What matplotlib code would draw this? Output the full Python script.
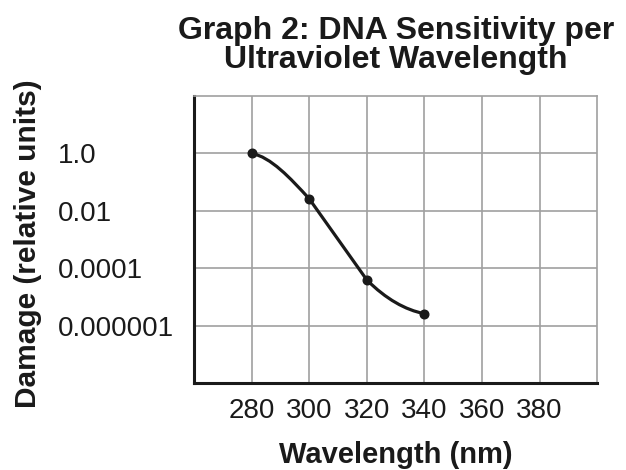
import numpy as np
import matplotlib
matplotlib.use("Agg")
import matplotlib.pyplot as plt
from matplotlib.path import Path
from matplotlib.patches import PathPatch

plt.rcParams['font.family'] = ['Liberation Sans', 'DejaVu Sans']

# data
wavelength = [280, 300, 320, 340]
damage = [1.0, 0.026, 3.9e-5, 2.6e-6]
x_ticks = [280, 300, 320, 340, 360, 380]
y_ticks = [1.0, 0.01, 0.0001, 0.000001]
y_tick_labels = ['1.0', '0.01', '0.0001', '0.000001']

fig = plt.figure(figsize=(6.26, 4.70), dpi=100)
ax = fig.add_axes([0.310, 0.185, 0.644, 0.611])
ax.set_yscale('log')
ax.set_xlim(260, 400)
ax.set_ylim(1e-8, 1e2)

# hand-drawn look: cubic beziers in (x, log10 y) space
xs = np.array(wavelength, dtype=float)
ls = np.log10(damage)
seg = np.diff(ls) / np.diff(xs)
steep = np.argmin(seg)          # steepest stretch drawn straight
t_out = np.zeros(len(xs) - 1)
t_in = np.zeros(len(xs) - 1)
for i in range(len(seg)):
    if i == steep:
        t_out[i] = t_in[i] = seg[i]
        continue
    t_out[i] = -0.02 if i == 0 else 0.5 * (seg[i - 1] + seg[i])
    t_in[i] = -0.02 if i == len(seg) - 1 else 0.5 * (seg[i] + seg[i + 1])
verts = [(xs[0], ls[0])]
codes = [Path.MOVETO]
for i in range(len(seg)):
    h = (xs[i + 1] - xs[i]) / 3
    verts += [(xs[i] + h, ls[i] + t_out[i] * h),
              (xs[i + 1] - h, ls[i + 1] - t_in[i] * h),
              (xs[i + 1], ls[i + 1])]
    codes += [Path.CURVE4] * 3
verts = [(vx, 10 ** vy) for vx, vy in verts]
ax.add_patch(PathPatch(Path(verts, codes), fill=False, lw=2.3,
                       ec='#1a1a1a', zorder=3, capstyle='round',
                       joinstyle='round'))
ax.plot(wavelength, damage, 'o', color='#1a1a1a', ms=6.2, zorder=4)

ax.set_xticks(x_ticks)
ax.set_yticks(y_ticks)
ax.set_yticklabels(y_tick_labels)
ax.minorticks_off()
ax.grid(True, color='#a0a0a0', lw=1.2)
ax.set_axisbelow(True)
ax.tick_params(axis='both', length=0, labelsize=20, colors='#1a1a1a')
ax.tick_params(axis='x', pad=11)
ax.tick_params(axis='y', pad=98)
for lab in ax.get_yticklabels():
    lab.set_horizontalalignment('left')

for s in ['top', 'right']:
    ax.spines[s].set_color('#a0a0a0')
    ax.spines[s].set_linewidth(1.2)
for s in ['left', 'bottom']:
    ax.spines[s].set_color('#1a1a1a')
    ax.spines[s].set_linewidth(2.2)

ax.set_title('Graph 2: DNA Sensitivity per\nUltraviolet Wavelength',
             fontsize=23, fontweight='bold', color='#1a1a1a',
             linespacing=0.98, pad=20)
ax.set_xlabel('Wavelength (nm)', fontsize=21, fontweight='bold',
              color='#1a1a1a', labelpad=12)
fig.text(0.045, 0.482, 'Damage (relative units)', rotation=90, fontsize=21.5,
         fontweight='bold', color='#1a1a1a', ha='center', va='center')

fig.savefig('out.png', dpi=100)
